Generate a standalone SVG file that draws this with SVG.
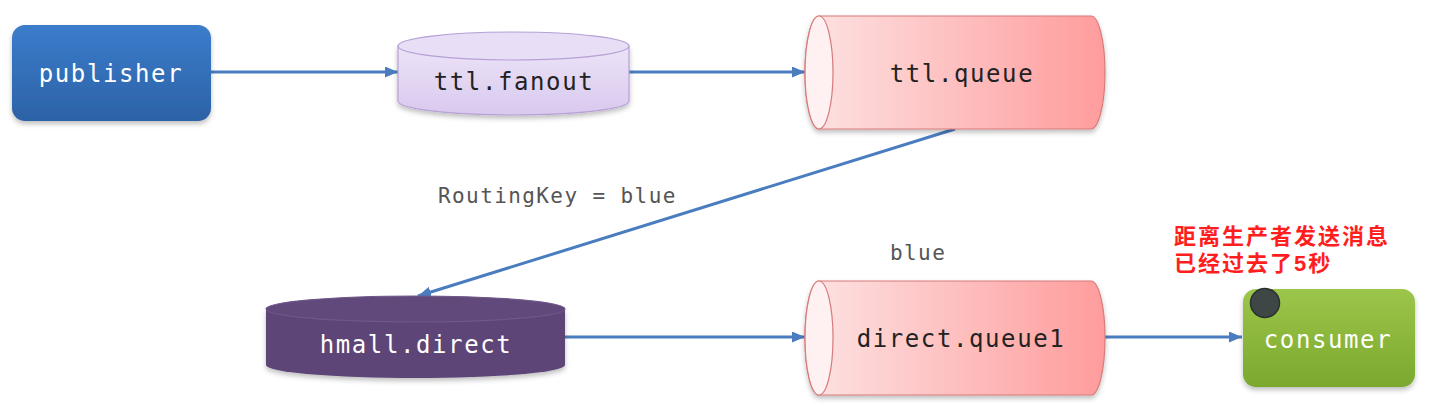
<svg xmlns="http://www.w3.org/2000/svg" width="1443" height="411" viewBox="0 0 1443 411">
<defs>
<style>
.mono{font-family:"DejaVu Sans Mono","Liberation Mono",monospace;}
.lbl{font-size:24px;letter-spacing:1.6px;text-anchor:middle;}
.wt{fill:#ffffff;}
.dk{fill:#222222;}
.edge{fill:none;stroke:#4a7dbf;stroke-width:3;}
.note{fill:#ff1e1e;font-family:"Liberation Sans","Noto Sans CJK SC",sans-serif;font-weight:bold;font-size:22px;letter-spacing:2px;stroke:#ffffff;stroke-width:1.5;paint-order:stroke;}
.elbl{fill:#555555;font-size:21px;letter-spacing:1.4px;}
</style>
<linearGradient id="gBlue" x1="0" y1="0" x2="0" y2="1"><stop offset="0" stop-color="#3b7ccb"/><stop offset="1" stop-color="#2c62a6"/></linearGradient>
<linearGradient id="gGreen" x1="0" y1="0" x2="0" y2="1"><stop offset="0" stop-color="#9cc64a"/><stop offset="1" stop-color="#7aa82e"/></linearGradient>
<linearGradient id="gRed" x1="0" y1="0" x2="1" y2="0"><stop offset="0" stop-color="#fde3e3"/><stop offset="1" stop-color="#ff9c9c"/></linearGradient>
<linearGradient id="gLav" x1="0" y1="0" x2="0" y2="1"><stop offset="0" stop-color="#ece3f7"/><stop offset="1" stop-color="#d9c9ee"/></linearGradient>
<filter id="sh" x="-10%" y="-10%" width="120%" height="130%"><feDropShadow dx="0" dy="3" stdDeviation="2.5" flood-color="#000" flood-opacity="0.25"/></filter>
<marker id="arr" viewBox="0 0 13 11" refX="13" refY="5.5" markerWidth="13" markerHeight="11" markerUnits="userSpaceOnUse" orient="auto"><path d="M0,0 L13,5.5 L0,11 Z" fill="#4a7dbf"/></marker>
</defs>
<rect width="1443" height="411" fill="#ffffff"/>

<g id="connectors">
<line class="edge" x1="211" y1="72" x2="398" y2="72" marker-end="url(#arr)"/>
<line class="edge" x1="629" y1="72" x2="805" y2="72" marker-end="url(#arr)"/>
<line class="edge" x1="955" y1="129" x2="418" y2="296" marker-end="url(#arr)"/>
<line class="edge" x1="565" y1="337" x2="805" y2="337" marker-end="url(#arr)"/>
<line class="edge" x1="1105" y1="337" x2="1242" y2="337" marker-end="url(#arr)"/>
<text class="mono elbl" x="438" y="203">RoutingKey = blue</text>
<text class="mono elbl" x="890" y="260">blue</text>
</g>

<g id="publisher">
<rect x="12" y="25" width="199" height="96" rx="13" fill="url(#gBlue)" filter="url(#sh)"/>
<text class="mono lbl wt" x="111" y="82">publisher</text>
</g>

<g id="ttl-fanout">
<path d="M398 46 L398 101 A115.5 14 0 0 0 629 101 L629 46 Z" fill="url(#gLav)" stroke="#b6a0d6" stroke-width="1.2" filter="url(#sh)"/>
<ellipse cx="513.5" cy="46" rx="115.5" ry="14" fill="#e8def5" stroke="#b6a0d6" stroke-width="1.2"/>
<text class="mono lbl dk" x="514" y="90">ttl.fanout</text>
</g>

<g id="ttl-queue">
<path d="M819 16 L1091 16 A14 56.5 0 0 1 1091 129 L819 129 A14 56.5 0 0 1 819 16 Z" fill="url(#gRed)" stroke="#d77a7a" stroke-width="1.2" filter="url(#sh)"/>
<ellipse cx="819" cy="72.5" rx="14" ry="56.5" fill="#fff1f1" stroke="#d77a7a" stroke-width="1.2"/>
<text class="mono lbl dk" x="962" y="82">ttl.queue</text>
</g>

<g id="hmall-direct">
<path d="M266 309 L266 365 A149.5 13 0 0 0 565 365 L565 309 Z" fill="#5d4577" filter="url(#sh)"/>
<ellipse cx="415.5" cy="309" rx="149.5" ry="13" fill="#614a7b" stroke="#6f5888" stroke-width="1.2"/>
<text class="mono lbl wt" x="416" y="353">hmall.direct</text>
</g>

<g id="direct-queue1">
<path d="M819 281 L1091 281 A14 57 0 0 1 1091 395 L819 395 A14 57 0 0 1 819 281 Z" fill="url(#gRed)" stroke="#d77a7a" stroke-width="1.2" filter="url(#sh)"/>
<ellipse cx="819" cy="338" rx="14" ry="57" fill="#fff1f1" stroke="#d77a7a" stroke-width="1.2"/>
<text class="mono lbl dk" x="961" y="347">direct.queue1</text>
</g>

<g id="consumer">
<rect x="1243" y="289" width="172" height="98" rx="13" fill="url(#gGreen)" filter="url(#sh)"/>
<circle cx="1265" cy="303" r="14.5" fill="#3e4646" stroke="#2a3030" stroke-width="1.5"/>
<text class="mono lbl wt" x="1328" y="348">consumer</text>
</g>

<g id="note">
<text class="note" x="1174" y="244">距离生产者发送消息</text>
<text class="note" x="1174" y="271">已经过去了5秒</text>
</g>
</svg>
